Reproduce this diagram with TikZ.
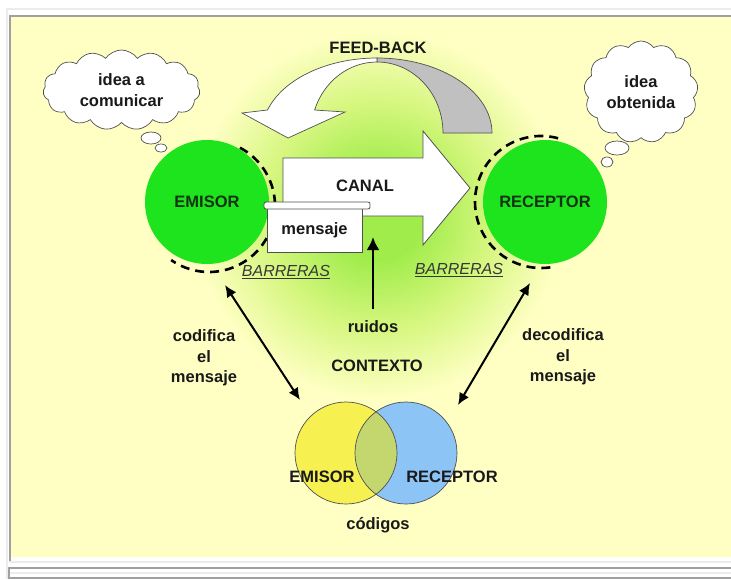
\documentclass[tikz,border=0pt]{standalone}
\usepackage{fontspec}
\setmainfont{Liberation Sans}
\usetikzlibrary{shapes.symbols,shapes.geometric,arrows.meta}
\definecolor{bg}{RGB}{255,255,196}
\definecolor{glowA}{RGB}{160,236,75}
\definecolor{glowB}{RGB}{212,246,125}
\definecolor{grn}{RGB}{30,228,30}
\definecolor{fbgray}{RGB}{192,192,192}
\definecolor{edge}{RGB}{80,80,80}
\definecolor{vyel}{RGB}{246,240,80}
\definecolor{vblue}{RGB}{140,196,245}
\definecolor{volive}{RGB}{196,214,110}
\definecolor{frameg}{RGB}{160,160,160}
\definecolor{framel}{RGB}{236,236,236}
\definecolor{txt}{RGB}{25,25,25}
\definecolor{barr}{RGB}{55,55,55}
\pgfdeclareradialshading{glow}{\pgfpoint{0bp}{0bp}}{color(0bp)=(glowA); color(6bp)=(glowA); color(15bp)=(glowB); color(25bp)=(bg); color(50bp)=(bg)}
\tikzset{
  lbl/.style={font=\fontsize{16.5}{20.5}\selectfont\bfseries, text=txt, align=center, inner sep=0pt},
  bigc/.style={circle, fill=grn, minimum size=124pt, inner sep=0pt, font=\fontsize{16.5}{20}\selectfont\bfseries, text={rgb,255:red,20;green,50;blue,20}},
  dasharc/.style={line width=2.6pt, dash pattern=on 9pt off 6pt, black},
  cloudbox/.style={cloud, draw=edge, fill=white, line width=0.7pt, inner sep=0pt, lbl},
  bubble/.style={ellipse, draw=edge, fill=white, line width=0.7pt, inner sep=0pt},
  barrlbl/.style={font=\fontsize{16}{18}\selectfont\itshape, text=barr, inner sep=0pt},
  dbl/.style={line width=2pt, black, {Latex[length=12pt,width=11pt]}-{Latex[length=12pt,width=11pt]}},
  venn/.style={circle, minimum size=102pt, inner sep=0pt}
}
\begin{document}
\begin{tikzpicture}[x=1pt,y=1pt]
\useasboundingbox (0,0) rectangle (731,-579);
% page and frame
\fill[white] (0,0) rectangle (731,-579);
\draw[framel, line width=1.5pt] (7,-579) -- (7,-9) -- (731,-9);
\fill[bg] (11,-17) rectangle (731,-557);
\draw[frameg, line width=2pt] (9.5,-561) -- (9.5,-15.5) -- (731,-15.5);
\draw[framel, line width=2pt] (9,-562) -- (731,-562);
\draw[frameg, line width=2pt] (8.5,-579) -- (8.5,-568) -- (731,-568);
\draw[framel, line width=1.5pt] (10,-573) -- (731,-573);
\draw[frameg, line width=1.5pt] (10,-578) -- (731,-578);
% context glow
\shade[shading=glow] (378,-215) circle (185pt);
% feed-back arrow
\filldraw[fill=fbgray, draw=edge, line width=0.7pt] (377,-58)
  arc[start angle=90, end angle=0, x radius=115pt, y radius=75pt] -- (443,-133)
  arc[start angle=0, end angle=90, x radius=66pt, y radius=71pt] -- cycle;
\filldraw[fill=white, draw=edge, line width=0.7pt] (377,-58)
  arc[start angle=90, end angle=162.14, x radius=115pt, y radius=75pt]
  -- (242,-113) -- (288,-138) -- (345,-112) -- (314.6,-110)
  arc[start angle=161.1, end angle=90, x radius=66pt, y radius=71pt] -- cycle;
\node[lbl] (fb) at (378,-48) {FEED-BACK};
% dashed barriers
\draw[dasharc] (209,-206) ++(62:66pt) arc[start angle=62, end angle=-125, radius=66pt];
\draw[dasharc] (541,-202) ++(75:66pt) arc[start angle=75, end angle=280, radius=66pt];
% main circles
\node[bigc] (emisor) at (207,-202) {EMISOR};
\node[bigc] (receptor) at (545,-202) {RECEPTOR};
% canal arrow
\filldraw[fill=white, draw=edge, line width=0.8pt] (283,-158) -- (423,-158) -- (423,-131)
  -- (470,-188) -- (423,-245) -- (423,-216) -- (283,-216) -- cycle;
\node[lbl] (canal) at (365,-186) {CANAL};
% mensaje
\node[draw=edge, fill=white, line width=0.8pt, minimum width=95pt, minimum height=44pt, lbl] (msg) at (314.5,-230) {mensaje};
\filldraw[fill=white, draw=edge, line width=0.8pt, rounded corners=2pt] (264,-202) rectangle (370,-209);
% barreras
\node[barrlbl] (bar1) at (286,-272) {\underline{BARRERAS}};
\node[barrlbl] (bar2) at (459,-270) {\underline{BARRERAS}};
% ruidos
\node[lbl] (ruidos) at (373,-327) {ruidos};
\coordinate (rbot) at (373,-309);
\coordinate (rtip) at (373,-237);
\draw[line width=2.6pt, -{Latex[length=13pt,width=13pt]}] (rbot) -- (rtip);
\node[lbl] (contexto) at (377,-366) {CONTEXTO};
% codifica / decodifica
\node[lbl] (codif) at (204,-358) {codifica\\el\\mensaje};
\node[lbl] (decodif) at (563,-357) {decodifica\\el\\mensaje};
\coordinate (a1) at (225,-285);
\coordinate (a2) at (300,-400);
\coordinate (b1) at (530,-283);
\coordinate (b2) at (458,-405);
\draw[dbl] (a1) -- (a2);
\draw[dbl] (b1) -- (b2);
% venn
\node[venn, fill=vyel] (vy) at (346,-453) {};
\node[venn, fill=vblue] (vb) at (406,-453) {};
\begin{scope}
  \clip (346,-453) circle (51pt);
  \fill[volive] (406,-453) circle (51pt);
\end{scope}
\draw[edge, line width=0.7pt] (vy.center) circle (51pt) (vb.center) circle (51pt);
\node[lbl] (ve) at (322,-477) {EMISOR};
\node[lbl] (vr) at (452,-477) {RECEPTOR};
\node[lbl] (cod) at (378,-525) {códigos};
% clouds
\node[cloudbox, cloud puffs=15, cloud puff arc=110, aspect=2, minimum width=157pt, minimum height=80pt] (idea1) at (121.5,-90) {idea a\\comunicar};
\node[bubble, minimum width=20pt, minimum height=12pt] (bu1) at (151,-138) {};
\node[bubble, minimum width=12pt, minimum height=8pt] (bu2) at (161,-148) {};
\node[cloudbox, cloud puffs=13, cloud puff arc=110, aspect=1.2, minimum width=114pt, minimum height=102pt] (idea2) at (641,-92) {idea\\obtenida};
\node[bubble, minimum width=24pt, minimum height=14pt] (bu3) at (617,-148) {};
\node[bubble, minimum width=12pt, minimum height=10pt] (bu4) at (607,-162) {};
\end{tikzpicture}
\end{document}
